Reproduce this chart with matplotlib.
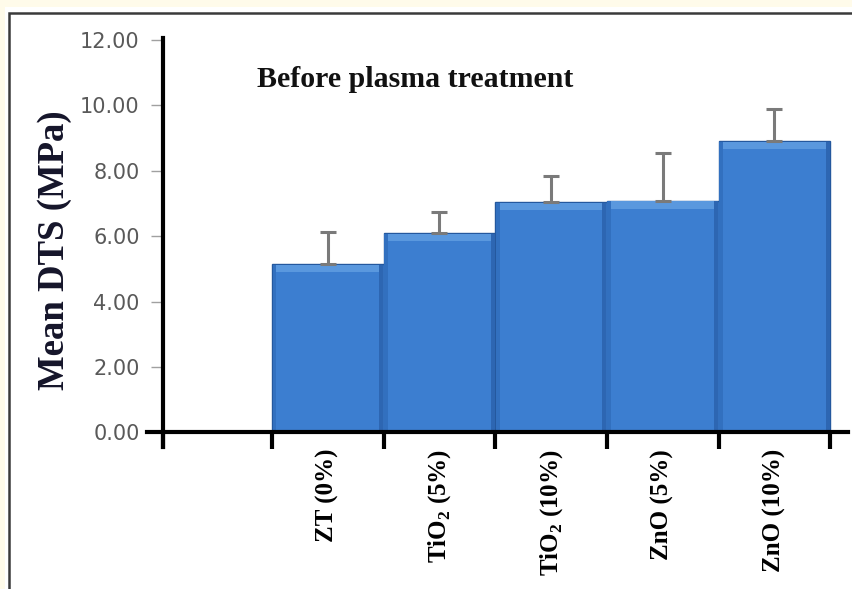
import matplotlib
matplotlib.use("Agg")
import matplotlib.pyplot as plt
from matplotlib.patches import Rectangle
import numpy as np

plt.rcParams["mathtext.fontset"] = "custom"
plt.rcParams["mathtext.rm"] = "Liberation Serif:bold"
plt.rcParams["mathtext.bf"] = "Liberation Serif:bold"

categories = ["ZT (0%)", "TiO$_\\mathbf{2}$ (5%)", "TiO$_\\mathbf{2}$ (10%)", "ZnO (5%)", "ZnO (10%)"]
means = [5.15, 6.10, 7.04, 7.08, 8.91]
errors = [0.98, 0.65, 0.80, 1.45, 0.99]
yticks = [0, 2, 4, 6, 8, 10, 12]
title = "Before plasma treatment"
ylabel = "Mean DTS (MPa)"

W, H = 852, 589
fig = plt.figure(figsize=(W / 100, H / 100), dpi=100)
fig.patch.set_facecolor("white")

# cream margins
fig.add_artist(Rectangle((0, (H - 7) / H), 1, 7 / H, transform=fig.transFigure,
                         facecolor="#fffbea", edgecolor="none", zorder=-6))
fig.add_artist(Rectangle((0, 0), 5 / W, 1, transform=fig.transFigure,
                         facecolor="#fffbea", edgecolor="none", zorder=-6))
# white panel with border
panel = Rectangle((9 / W, -0.1), 1.2, (H - 12.5) / H + 0.1, transform=fig.transFigure,
                  facecolor="white", edgecolor="#3a3a3a", linewidth=1.8, zorder=-5)
fig.add_artist(panel)

ax = fig.add_axes([147 / W, (H - 432.3) / H, (848 - 147) / W, (432.3 - 40) / H])
ax.set_zorder(2)
ax.set_facecolor("none")

x = np.arange(1, len(categories) + 1)
bars = ax.bar(x, means, width=1.0, color="#3c7ed0", edgecolor="#24589e", linewidth=1.0, zorder=2)
# bevel effect on each bar
for b in bars:
    h = b.get_height()
    ax.add_patch(Rectangle((b.get_x() + 0.03, h - 0.24), b.get_width() - 0.06, 0.22,
                           facecolor="#5a98de", edgecolor="none", zorder=3))
    ax.add_patch(Rectangle((b.get_x() + 0.005, 0), 0.035, h - 0.02,
                           facecolor="#3270bf", edgecolor="none", zorder=3))
    ax.add_patch(Rectangle((b.get_x() + b.get_width() - 0.04, 0), 0.035, h - 0.02,
                           facecolor="#2d66b2", edgecolor="none", zorder=3))

ax.errorbar(x, means, yerr=[np.zeros(len(means)), errors], fmt="none",
            ecolor="#7a7a7a", elinewidth=2.2, capsize=6, capthick=2.2, zorder=4)

ax.set_xlim(-0.62, 5.66)
ax.set_ylim(0, 12)

for s in ["top", "right"]:
    ax.spines[s].set_visible(False)
ax.spines["left"].set_position(("data", -0.475))
ax.spines["left"].set_linewidth(3)
ax.spines["bottom"].set_linewidth(3)
ax.spines["left"].set_bounds(-0.45, 12.05)
for s in ax.spines.values():
    s.set_zorder(5)

ax.set_yticks(yticks)
ax.set_yticklabels([f"{v:.2f}" for v in yticks], fontsize=15, color="#595959",
                   family="DejaVu Sans")
ax.tick_params(axis="y", length=9, width=1, color="#a0a0a0", pad=8, direction="out")

ax.set_xticks([-0.475] + list(np.arange(0.5, 6.0, 1.0)))
ax.set_xticks(x, minor=True)
ax.set_xticklabels([])
ax.tick_params(axis="x", which="major", length=12, width=3, color="black", direction="out")
ax.tick_params(axis="x", which="minor", length=0, pad=12)
ax.set_xticklabels(categories, minor=True, rotation=90, fontsize=18, fontweight="bold",
                   family="Liberation Serif", va="top", ha="center")

fig.text(55 / W, (H - 250) / H, ylabel, rotation=90, fontsize=26.5, fontweight="bold",
         family="Liberation Serif", color="#15152a", ha="center", va="center")
fig.text(257 / W, (H - 80) / H, title, fontsize=21.5, fontweight="bold",
         family="Liberation Serif", color="#111111", ha="left", va="center")

fig.savefig("out.png", dpi=100, facecolor=fig.get_facecolor())
